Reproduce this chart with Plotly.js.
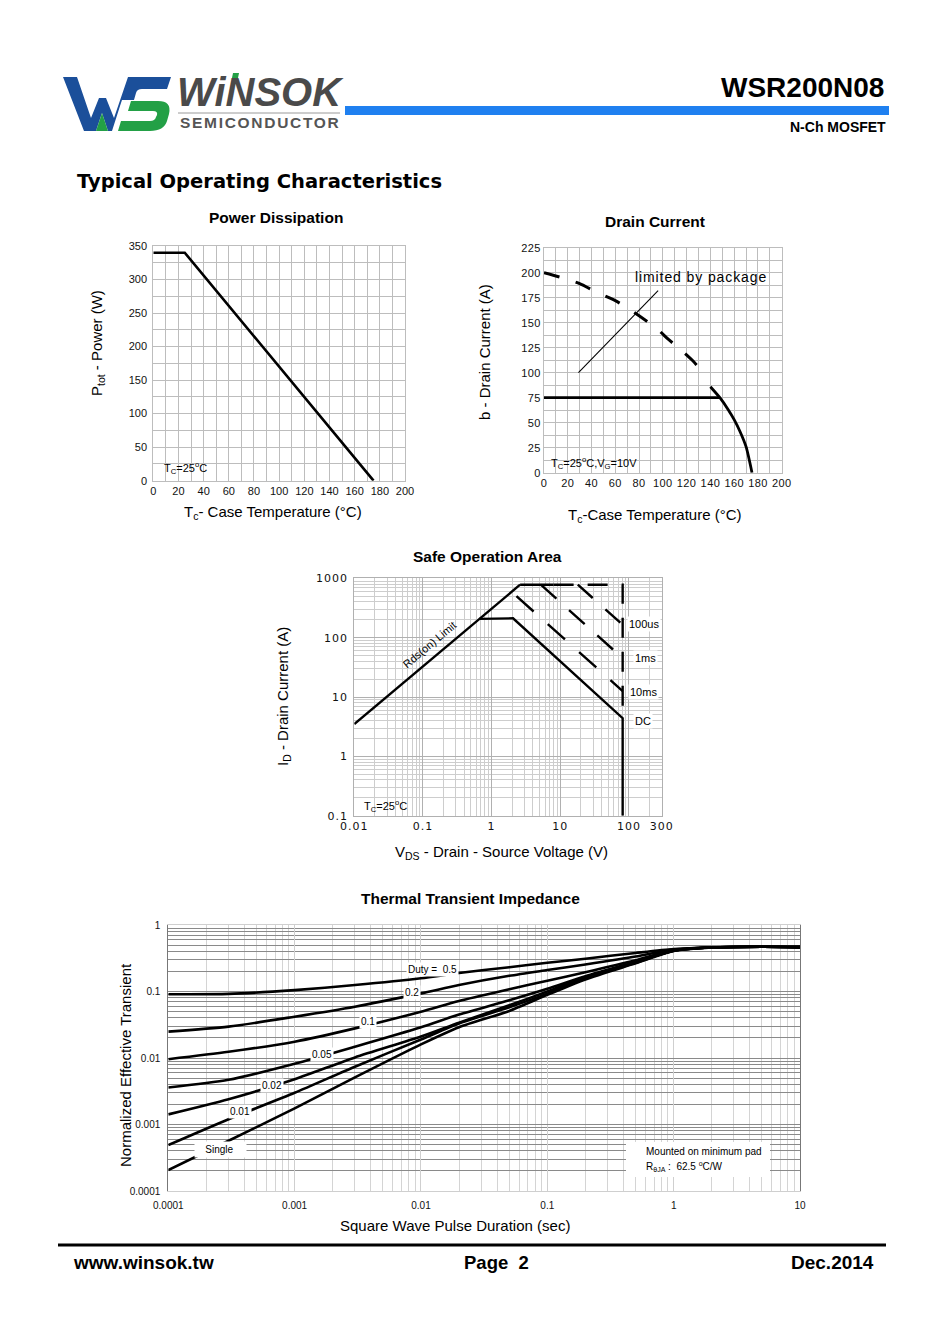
<!DOCTYPE html>
<html><head><meta charset="utf-8">
<script src="https://cdn.plot.ly/plotly-3.0.1.min.js"></script>
<style>html,body{margin:0;padding:0;background:#fff}#chart{width:950px;height:1344px}
.x3tick text,.y3tick text{letter-spacing:1px}
.x2tick text,.y2tick text{letter-spacing:0.4px}</style>
</head><body><div id="chart"></div>
<script>
// ---------- data ----------
// Power dissipation
const pdTemp = [0, 25, 175];
const pdPower = [340, 340, 0];
// Drain current
const idPkgTemp = [0, 148];
const idPkgCurrent = [75, 75];
const idChipTemp = [0, 15, 30, 45, 60, 70, 80, 95, 105, 117, 126, 137];
const idChipCurrent = [200, 195, 189, 180, 172, 165, 157, 144, 133, 121, 111, 95];
const idTailTemp = [140, 148, 155, 160, 165, 170, 175];
const idTailCurrent = [86, 75, 63, 53, 41, 26, 0];
const idLeaderTemp = [29, 96];
const idLeaderCurrent = [100, 182];
// Safe operating area
const soaRdsV = [0.01, 2.6];
const soaRdsI = [3.5, 780];
const soaTopV = [2.6, 8];
const soaTopI = [780, 780];
const soaTopDashV = [8, 81, 81];
const soaTopDashI = [780, 780, 4.4];
const soaDcV = [0.66, 2.05, 81, 81];
const soaDcI = [207, 212, 4.4, 0.1];
const soa100usV = [18, 81];
const soa100usI = [780, 165];
const soa1msV = [5.2, 81];
const soa1msI = [780, 45];
const soa10msV = [2.3, 81];
const soa10msI = [500, 12.6];
const soaXTicks = [0.01, 0.1, 1, 10, 100, 300];
const soaXLabels = ['0.01', '0.1', '1', '10', '100', '300'];
const soaYTicks = [0.1, 1, 10, 100, 1000];
const soaYLabels = ['0.1', '1', '10', '100', '1000'];
// Thermal transient impedance
const thTime = [1e-4, 3e-4, 1e-3, 3e-3, 1e-2, 2e-2, 5e-2, 0.1, 0.2, 0.5, 1, 2, 5, 10];
const thDuty05 = [0.091, 0.092, 0.105, 0.125, 0.158, 0.19, 0.232, 0.27, 0.311, 0.38, 0.435, 0.46, 0.47, 0.465];
const thDuty02 = [0.0249, 0.0296, 0.0418, 0.0591, 0.0937, 0.125, 0.172, 0.21, 0.255, 0.335, 0.43, 0.46, 0.47, 0.465];
const thDuty01 = [0.0096, 0.0124, 0.0176, 0.0279, 0.0497, 0.072, 0.108, 0.145, 0.195, 0.295, 0.42, 0.46, 0.47, 0.465];
const thDuty005 = [0.0036, 0.0047, 0.0082, 0.0148, 0.029, 0.045, 0.074, 0.11, 0.17, 0.28, 0.41, 0.458, 0.47, 0.465];
const thDuty002 = [0.00142, 0.0024, 0.0048, 0.0102, 0.021, 0.034, 0.062, 0.1, 0.165, 0.275, 0.41, 0.458, 0.47, 0.465];
const thDuty001 = [0.00049, 0.0012, 0.003, 0.0074, 0.019, 0.033, 0.058, 0.093, 0.158, 0.27, 0.41, 0.458, 0.47, 0.465];
const thSingle = [0.000207, 0.00057, 0.00175, 0.0051, 0.016, 0.029, 0.051, 0.089, 0.152, 0.265, 0.405, 0.458, 0.47, 0.465];
const thXTicks = [1e-4, 1e-3, 1e-2, 0.1, 1, 10];
const thXLabels = ['0.0001', '0.001', '0.01', '0.1', '1', '10'];
const thYTicks = [1e-4, 1e-3, 1e-2, 0.1, 1];
const thYLabels = ['0.0001', '0.001', '0.01', '0.1', '1'];

// ---------- helpers ----------
const W = 950, H = 1344;
const F = 'Liberation Sans, Arial, Helvetica, sans-serif';
const FV = 'DejaVu Sans, Verdana, sans-serif';
const px = x => x / W;
const py = y => 1 - y / H;
function logMinor(d0, d1) { const v = []; for (let d = d0; d < d1; d++) for (let k = 2; k <= 9; k++) v.push(k * Math.pow(10, d)); return v; }
function pathPx(s) { return s.replace(/(-?\d+(?:\.\d+)?),(-?\d+(?:\.\d+)?)/g, (m, a, b) => px(+a).toFixed(5) + ',' + py(+b).toFixed(5)); }
function T(text, x, y, size, o) {
  o = o || {};
  const a = { text: text, x: px(x), y: py(y), xref: 'paper', yref: 'paper', showarrow: false,
    xanchor: o.xanchor || 'center', yanchor: 'middle',
    font: { family: o.family || F, size: size, color: o.color || '#000' } };
  if (o.textangle !== undefined) a.textangle = o.textangle;
  if (o.bgcolor) { a.bgcolor = o.bgcolor; a.borderpad = o.borderpad || 1; }
  return a;
}
function line(x, y, xa, ya, w, dash, shape) {
  return { x: x, y: y, xaxis: xa, yaxis: ya, type: 'scatter', mode: 'lines', hoverinfo: 'skip',
    line: { color: '#000', width: w, dash: dash || 'solid', shape: shape || 'linear', smoothing: 0.7 } };
}
const tf = { family: F, size: 11, color: '#111' };
const g = '#bdbdbd';

// ---------- traces ----------
const traces = [
  line(pdTemp, pdPower, 'x', 'y', 2.6),
  line(idPkgTemp, idPkgCurrent, 'x2', 'y2', 2.8),
  line(idChipTemp, idChipCurrent, 'x2', 'y2', 3, '16px,17px', 'spline'),
  line(idTailTemp, idTailCurrent, 'x2', 'y2', 2.8, 'solid', 'spline'),
  line(idLeaderTemp, idLeaderCurrent, 'x2', 'y2', 1.1),
  line(soaRdsV, soaRdsI, 'x3', 'y3', 2.4),
  line(soaTopV, soaTopI, 'x3', 'y3', 2.4),
  line(soaTopDashV, soaTopDashI, 'x3', 'y3', 2.4, '20px,14px'),
  line(soaDcV, soaDcI, 'x3', 'y3', 2.4),
  line(soa100usV, soa100usI, 'x3', 'y3', 2.4, '20px,17px'),
  line(soa1msV, soa1msI, 'x3', 'y3', 2.4, '21px,17px'),
  line(soa10msV, soa10msI, 'x3', 'y3', 2.4, '23px,19px'),
  line(thTime, thDuty05, 'x4', 'y4', 2.6, 'solid', 'spline'),
  line(thTime, thDuty02, 'x4', 'y4', 2.6, 'solid', 'spline'),
  line(thTime, thDuty01, 'x4', 'y4', 2.6, 'solid', 'spline'),
  line(thTime, thDuty005, 'x4', 'y4', 2.6, 'solid', 'spline'),
  line(thTime, thDuty002, 'x4', 'y4', 2.6, 'solid', 'spline'),
  line(thTime, thDuty001, 'x4', 'y4', 2.6, 'solid', 'spline'),
  line(thTime, thSingle, 'x4', 'y4', 2.6, 'solid', 'spline')
];

// ---------- axes ----------
function linX(d, r, dt, mdt, anchor) {
  return { domain: [px(d[0]), px(d[1])], range: r, anchor: anchor, tickmode: 'linear', tick0: 0, dtick: dt,
    minor: { dtick: mdt, showgrid: true, gridcolor: g, gridwidth: 1 }, showgrid: true, gridcolor: g,
    showline: true, linecolor: g, mirror: true, zeroline: false, ticks: '', tickfont: tf, fixedrange: true };
}
function logAx(d, r, tv, tt, d0, d1, anchor, gc, mgc) {
  return { type: 'log', domain: [d[0], d[1]], range: r, anchor: anchor, tickmode: 'array', tickvals: tv, ticktext: tt,
    minor: { tickmode: 'array', tickvals: logMinor(d0, d1), showgrid: true, gridcolor: mgc, gridwidth: 1 },
    showgrid: true, gridcolor: gc, showline: true, linecolor: gc, mirror: true, zeroline: false, ticks: '',
    tickfont: tf, fixedrange: true };
}
const layout = {
  width: W, height: H, margin: { l: 0, r: 0, t: 0, b: 0 }, showlegend: false,
  paper_bgcolor: '#fff', plot_bgcolor: '#fff', font: { family: F, color: '#000' },
  xaxis: linX([153.3, 405], [0, 200], 20, 10, 'y'),
  yaxis: Object.assign(linX([0, 0], [0, 350], 50, 25, 'x'), { domain: [py(480.7), py(246)], ticklabelstandoff: 3 }),
  xaxis2: linX([544, 781.7], [0, 200], 20, 10, 'y2'),
  yaxis2: Object.assign(linX([0, 0], [0, 225], 25, 12.5, 'x2'), { domain: [py(472.7), py(247.7)] }),
  xaxis3: logAx([px(354.3), px(661.7)], [-2, Math.log10(300)], soaXTicks, soaXLabels, -2, 3, 'y3', '#b0b0b0', '#cdcdcd'),
  yaxis3: logAx([py(815.7), py(578.3)], [-1, 3], soaYTicks, soaYLabels, -1, 3, 'x3', '#b0b0b0', '#cdcdcd'),
  xaxis4: logAx([px(168.3), px(800)], [-4, 1], thXTicks, thXLabels, -4, 1, 'y4', '#cfcfcf', '#d4d4d4'),
  yaxis4: logAx([py(1191), py(925)], [-4, 0], thYTicks, thYLabels, -4, 0, 'x4', '#8a8a8a', '#8a8a8a'),
  shapes: [], annotations: []
};
layout.xaxis3.tickfont = { family: FV, size: 11, color: '#111' };
layout.yaxis3.tickfont = { family: FV, size: 11, color: '#111' };
layout.yaxis3.ticklabelstandoff = 3;
layout.xaxis4.tickfont = { family: F, size: 10, color: '#111' };
layout.xaxis4.ticklabelstandoff = 5;
layout.yaxis4.tickfont = { family: F, size: 10, color: '#111' };
layout.yaxis4.ticklabelstandoff = 5;
layout.yaxis4.linecolor = '#777';

// ---------- shapes ----------
const S = layout.shapes;
S.push({ type: 'rect', xref: 'paper', yref: 'paper', x0: px(345), x1: px(889), y0: py(115), y1: py(106), fillcolor: '#1f80f0', line: { width: 0 } });
S.push({ type: 'line', xref: 'paper', yref: 'paper', x0: px(178), x1: px(340), y0: py(113), y1: py(113), line: { color: '#9a9a9a', width: 1 } });
S.push({ type: 'line', xref: 'paper', yref: 'paper', x0: px(58), x1: px(886), y0: py(1245), y1: py(1245), line: { color: '#000', width: 3 } });
// logo
S.push({ type: 'path', xref: 'paper', yref: 'paper', fillcolor: '#1b4f9a', line: { width: 0 },
  path: pathPx('M63,77 L77,77 L91,118 L99,98 L106,98 L114,118 L128,77 L171,77 L167,89 L142,89 Q137,89 136,93 L134,100 L122,100 L120,106 L112,131 L108,131 L102,113 L96,131 L84,131 Z') });
S.push({ type: 'path', xref: 'paper', yref: 'paper', fillcolor: '#23a046', line: { width: 0 },
  path: pathPx('M102,113 L108,131 L96,131 Z') });
S.push({ type: 'path', xref: 'paper', yref: 'paper', fillcolor: '#23a046', line: { width: 0 },
  path: pathPx('M131,101 L158,101 Q172,101 169,114 L167,121 Q164,131 150,131 L118,131 L121,121 L150,121 Q155,121 156,117 L157,115 Q158,111 153,111 L128,111 Z') });
S.push({ type: 'path', xref: 'paper', yref: 'paper', fillcolor: '#23a046', line: { width: 0 },
  path: pathPx('M233,73 L239,73 L238,78 L232,78 Z') });
// thermal note box
S.push({ type: 'rect', xref: 'paper', yref: 'paper', layer: 'above', x0: px(626), x1: px(770), y0: py(1177), y1: py(1142), fillcolor: '#fff', line: { width: 0 } });

// ---------- annotations ----------
const A = layout.annotations;
A.push(T('<b>WSR200N08</b>', 886, 88, 28, { xanchor: 'right' }));
A.push(T('<b>N-Ch MOSFET</b>', 888, 127, 14, { xanchor: 'right' }));
A.push(T('<b><i>WiNSOK</i></b>', 175, 92, 40, { xanchor: 'left', color: '#4a4a4a' }));
A.push(T('<span style="letter-spacing:1.7px"><b>SEMICONDUCTOR</b></span>', 178, 123, 15.5, { xanchor: 'left', color: '#555' }));
A.push(T('<b>Typical Operating Characteristics</b>', 75, 182, 19.5, { xanchor: 'left', family: FV }));
// chart titles
A.push(T('<b>Power Dissipation</b>', 276, 217, 15.5));
A.push(T('<b>Drain Current</b>', 655, 221, 15.5));
A.push(T('<b>Safe Operation Area</b>', 487, 556, 15.5));
A.push(T('<b>Thermal Transient Impedance</b>', 470, 898, 15.5));
// axis titles
A.push(T('P<sub>tot</sub> - Power (W)', 98, 343, 15, { textangle: -90 }));
A.push(T('T<sub>c</sub>- Case Temperature (°C)', 273, 512, 15));
A.push(T('b - Drain Current (A)', 485, 352, 15, { textangle: -90 }));
A.push(T('T<sub>c</sub>-Case Temperature (°C)', 655, 515, 15));
A.push(T('I<sub>D</sub> - Drain Current (A)', 283, 697, 15, { textangle: -90 }));
A.push(T('V<sub>DS</sub> - Drain - Source Voltage (V)', 502, 852, 15));
A.push(T('Normalized Effective Transient', 125, 1065, 15, { textangle: -90 }));
A.push(T('Square Wave Pulse Duration (sec)', 455, 1225, 15));
// in-plot labels
A.push(T('T<sub>C</sub>=25<sup>o</sup>C', 162, 468, 11, { xanchor: 'left' }));
A.push(T('T<sub>C</sub>=25<sup>o</sup>C,V<sub>G</sub>=10V', 549, 463, 11, { xanchor: 'left' }));
A.push(T('<span style="letter-spacing:0.9px">limited by package</span>', 633, 277, 14, { xanchor: 'left' }));
A.push(T('Rds(on) Limit', 429, 645, 11, { textangle: -40 }));
A.push(T('100us', 627, 624, 11, { xanchor: 'left', bgcolor: '#fff' }));
A.push(T('1ms', 633, 658, 11, { xanchor: 'left', bgcolor: '#fff' }));
A.push(T('10ms', 628, 692, 11, { xanchor: 'left', bgcolor: '#fff' }));
A.push(T('DC', 633, 721, 11, { xanchor: 'left', bgcolor: '#fff' }));
A.push(T('T<sub>C</sub>=25<sup>o</sup>C', 362, 806, 11, { xanchor: 'left' }));
A.push(T('Duty =\u00a0 0.5', 432, 969, 10, { bgcolor: '#fff' }));
A.push(T('0.2', 412, 992, 10, { bgcolor: '#fff' }));
A.push(T('0.1', 368, 1021, 10, { bgcolor: '#fff' }));
A.push(T('0.05', 322, 1054, 10, { bgcolor: '#fff' }));
A.push(T('0.02', 272, 1085, 10, { bgcolor: '#fff' }));
A.push(T('0.01', 240, 1111, 10, { bgcolor: '#fff' }));
A.push(T('\u00a0\u00a0\u00a0Single\u00a0\u00a0\u00a0\u00a0', 220, 1149, 10, { bgcolor: '#fff', borderpad: 2 }));
A.push(T('Mounted on minimum pad', 644, 1151, 10, { xanchor: 'left' }));
A.push(T('R<sub>θJA</sub> :  62.5 <sup>o</sup>C/W', 644, 1166, 10, { xanchor: 'left' }));
// footer
A.push(T('<b>www.winsok.tw</b>', 71, 1262, 19, { xanchor: 'left' }));
A.push(T('<b>Page  2</b>', 496, 1262, 18.5));
A.push(T('<b>Dec.2014</b>', 876, 1262, 19, { xanchor: 'right' }));

Plotly.newPlot('chart', traces, layout, { staticPlot: true, displayModeBar: false });
</script></body></html>
